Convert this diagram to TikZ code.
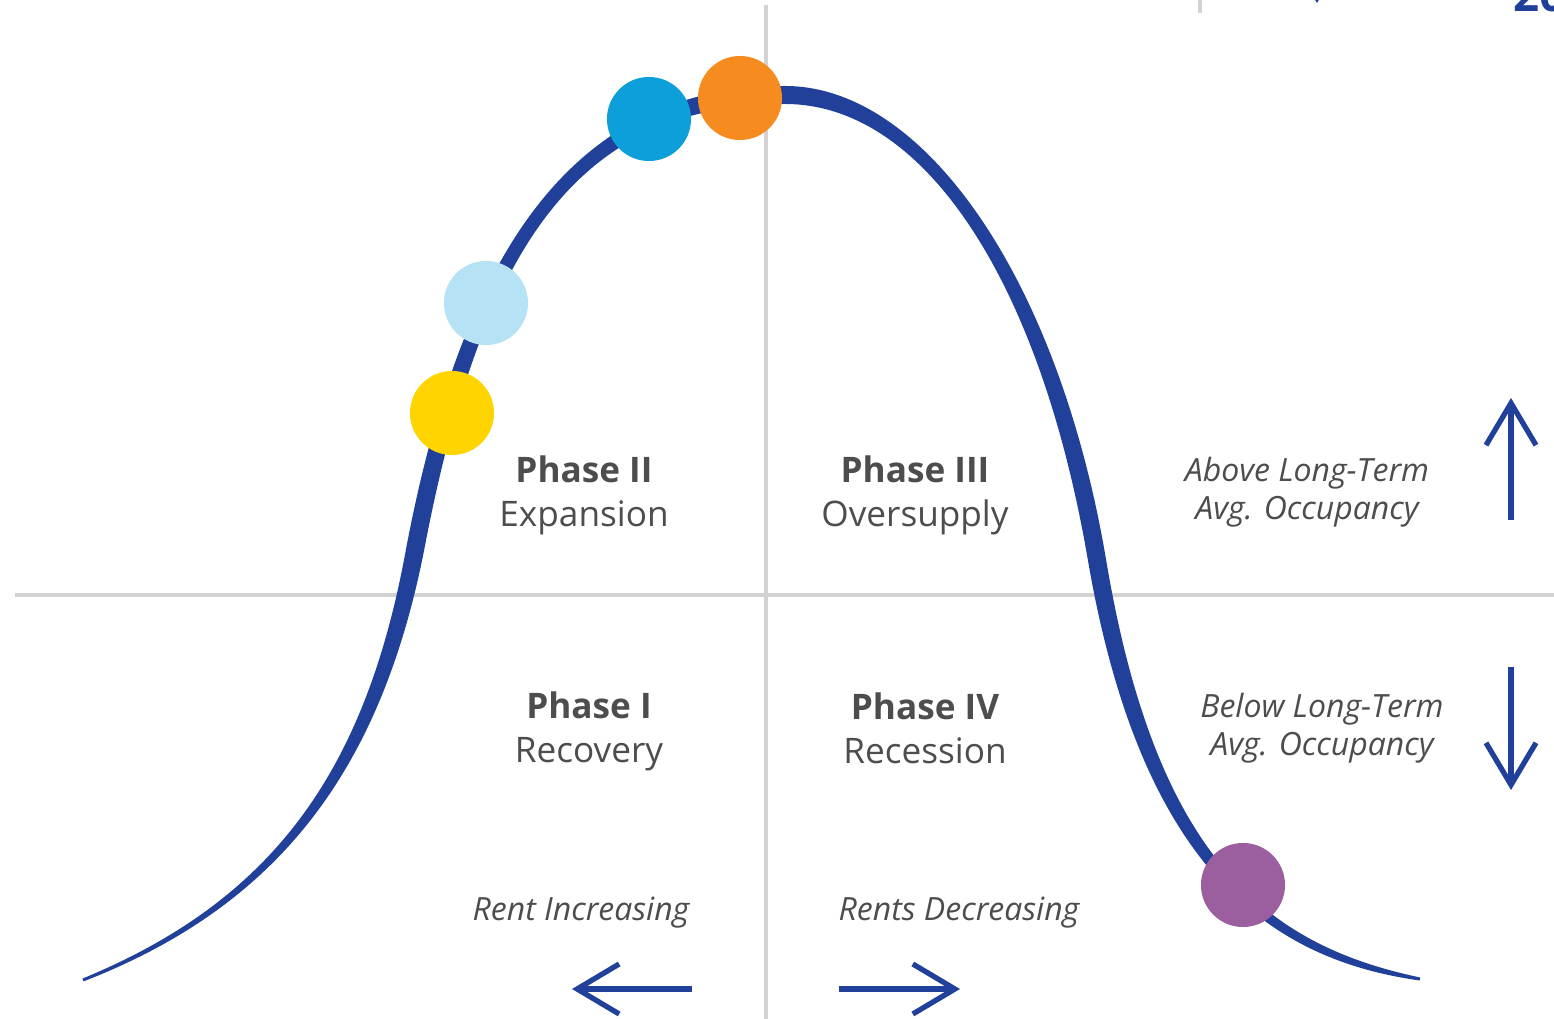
\documentclass[tikz,border=0pt]{standalone}
\usepackage{fontspec}
\setmainfont{Open Sans}
\usetikzlibrary{arrows.meta}

\definecolor{cycleblue}{HTML}{21409A}
\definecolor{gridgray}{HTML}{D2D2D2}
\definecolor{ink}{HTML}{4D4D4F}
\definecolor{dotyellow}{HTML}{FFD400}
\definecolor{dotsky}{HTML}{B5E2F4}
\definecolor{dotblue}{HTML}{0C9FDA}
\definecolor{dotorange}{HTML}{F68B1F}
\definecolor{dotpurple}{HTML}{9B5E9F}

\begin{document}
\begin{tikzpicture}[
    x=0.01cm, y=-0.01cm,
    axis/.style={draw=gridgray, line width=0.9pt},
    phase/.style={align=center, text=ink, font=\fontsize{10}{12.5}\selectfont},
    occupancy/.style={align=center, text=ink, font=\fontsize{9.1}{10.8}\selectfont\itshape},
    rent/.style={text=ink, font=\fontsize{9.1}{11}\selectfont\itshape},
    marker/.style={circle, minimum size=0.84cm, inner sep=0pt},
    trend/.style={draw=cycleblue, line width=1.5pt, -{Straight Barb[length=4.2mm, width=5mm]}},
]
  \path[use as bounding box, fill=white] (0,0) rectangle (1554,1019);

  % quadrant lines
  \coordinate (vtop) at (766,5);
  \coordinate (vbot) at (766,1019);
  \coordinate (hleft) at (15,595);
  \coordinate (hright) at (1554,595);
  \draw[axis] (vtop) -- (vbot);
  \draw[axis] (hleft) -- (hright);

  % cut-off bits along the top edge
  \coordinate (sep0) at (1200,-10);
  \coordinate (sep1) at (1200,13);
  \draw[axis] (sep0) -- (sep1);
  \coordinate (tip0) at (1317,-80);
  \coordinate (tip1) at (1317,3);
  \draw[trend] (tip0) -- (tip1);
  \node[anchor=base west, inner sep=0pt, text=cycleblue, font=\fontsize{13}{13}\selectfont\bfseries] (year) at (1513,12) {20};

  % the cycle: outer edge out, inner edge back, thin at both ends
  \fill[cycleblue]
    (82.44,978.61) .. controls (271.30,900.85) and (365.33,773.79) .. (406.16,548.32)
    .. controls (462.36,252.57) and (572.4,86) .. (785,86)
    .. controls (924.8,86) and (1058.47,279.49) .. (1105.87,558.49)
    .. controls (1155.69,857.56) and (1265.40,944.90) .. (1420.26,977.52)
    -- (1419.74,980.48)
    .. controls (1263.00,958.70) and (1139.91,860.24) .. (1088.13,561.51)
    .. controls (1040.73,282.51) and (924.8,104) .. (785,104)
    .. controls (572.4,104) and (480.04,255.93) .. (423.84,551.68)
    .. controls (379.07,776.41) and (273.90,907.35) .. (83.56,981.39)
    -- cycle;

  % markers on the curve
  \node[marker, fill=dotyellow] (yellow) at (452,413) {};
  \node[marker, fill=dotsky] (sky) at (486,303) {};
  \node[marker, fill=dotblue] (blue) at (649,119) {};
  \node[marker, fill=dotorange] (orange) at (740,98) {};
  \node[marker, fill=dotpurple] (purple) at (1243,885) {};

  % quadrant labels
  \node[phase] (expansion) at (584,495) {{\bfseries Phase II}\\Expansion};
  \node[phase] (oversupply) at (915,495) {{\bfseries Phase III}\\Oversupply};
  \node[phase] (recovery) at (589,731) {{\bfseries Phase I}\\Recovery};
  \node[phase] (recession) at (925,728) {{\bfseries Phase IV}\\Recession};

  % occupancy side
  \node[occupancy] (above) at (1307,492) {Above Long-Term\\Avg. Occupancy};
  \node[occupancy] (below) at (1322,728) {Below Long-Term\\Avg. Occupancy};
  \coordinate (up0) at (1511,520);
  \coordinate (up1) at (1511,398);
  \coordinate (down0) at (1511,667);
  \coordinate (down1) at (1511,790);
  \draw[trend] (up0) -- (up1);
  \draw[trend] (down0) -- (down1);

  % rent side
  \node[rent] (rentup) at (581,913) {Rent Increasing};
  \node[rent] (rentdown) at (959,913) {Rents Decreasing};
  \coordinate (left0) at (692,989);
  \coordinate (left1) at (572,989);
  \coordinate (right0) at (839,989);
  \coordinate (right1) at (960,989);
  \draw[trend] (left0) -- (left1);
  \draw[trend] (right0) -- (right1);
\end{tikzpicture}
\end{document}
